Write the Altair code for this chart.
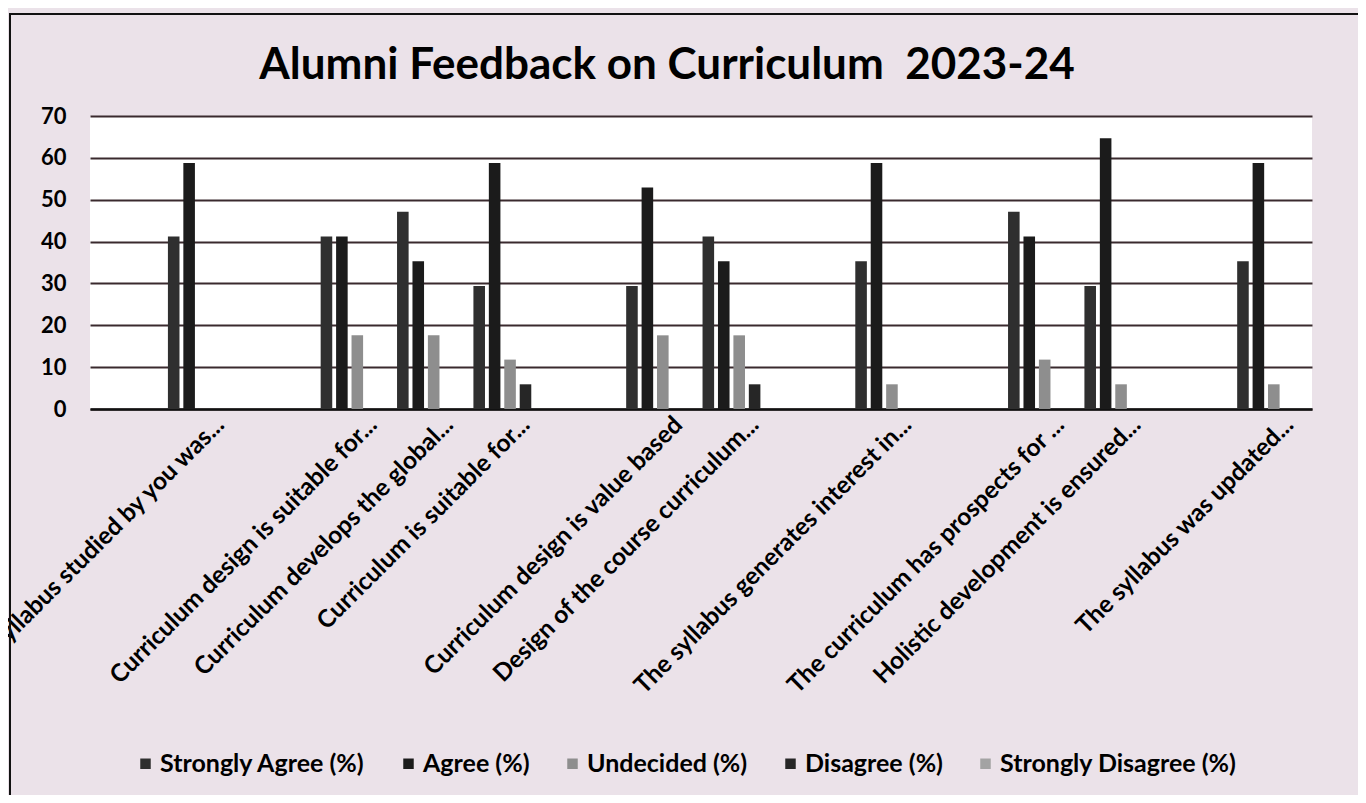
import json
import altair as alt
import pandas as pd

# ---- data ----
questions = [
    "",
    "Syllabus studied by you was...",
    "",
    "Curriculum design is suitable for...",
    "Curriculum develops the global...",
    "Curriculum is suitable for...",
    "",
    "Curriculum design is value based",
    "Design of the course curriculum...",
    "",
    "The syllabus generates interest in...",
    "",
    "The curriculum has prospects for ...",
    "Holistic development is ensured...",
    "",
    "The syllabus was updated...",
]
series = ["Strongly Agree (%)", "Agree (%)", "Undecided (%)", "Disagree (%)", "Strongly Disagree (%)"]
colors = ["#2f2f2f", "#1b1b1b", "#8e8e8e", "#262626", "#a3a3a3"]

# values per question slot (None = blank slot)
strongly_agree = [None, 41.2, None, 41.2, 47.1, 29.4, None, 29.4, 41.2, None, 35.3, None, 47.1, 29.4, None, 35.3]
agree          = [None, 58.8, None, 41.2, 35.3, 58.8, None, 52.9, 35.3, None, 58.8, None, 41.2, 64.7, None, 58.8]
undecided      = [None, 0.0,  None, 17.6, 17.6, 11.8, None, 17.6, 17.6, None, 5.9,  None, 11.8, 5.9,  None, 5.9]
disagree       = [None, 0.0,  None, 0.0,  0.0,  5.9,  None, 0.0,  5.9,  None, 0.0,  None, 0.0,  0.0,  None, 0.0]
strongly_dis   = [None, 0.0,  None, 0.0,  0.0,  0.0,  None, 0.0,  0.0,  None, 0.0,  None, 0.0,  0.0,  None, 0.0]

rows = []
for s, vals in zip(series, [strongly_agree, agree, undecided, disagree, strongly_dis]):
    for i, v in enumerate(vals):
        if v is not None:
            rows.append({"slot": i, "series": s, "value": v})
df = pd.DataFrame(rows)

label_expr = json.dumps(questions) + "[datum.value]"
FONT = "Lato"
TITLE = "Alumni Feedback on Curriculum\u00a0 2023-24"

bars = alt.Chart(df).mark_bar().encode(
    x=alt.X("slot:O",
            scale=alt.Scale(domain=list(range(len(questions))), paddingInner=0, paddingOuter=0),
            axis=alt.Axis(title=None, labelExpr=label_expr, labelAngle=-45, labelAlign="right",
                          labelBaseline="middle", labelFontSize=24.5, labelFont=FONT,
                          labelFontWeight="bold",
                          labelColor="#000000", labelOffset=16, labelPadding=12,
                          ticks=False, domain=True, domainColor="#111111", domainWidth=2.5,
                          grid=False, labelOverlap=False, labelBound=False, labelLimit=0)),
    xOffset=alt.XOffset("series:N", sort=series,
                        scale=alt.Scale(domain=series, paddingInner=0.25, paddingOuter=0.1)),
    y=alt.Y("value:Q", scale=alt.Scale(domain=[0, 70], nice=False),
            axis=alt.Axis(title=None, values=list(range(0, 71, 10)), labelFontSize=22,
                          labelFont=FONT, labelFontWeight="bold", labelColor="#000000",
                          labelPadding=24, ticks=False, domain=False,
                          grid=True, gridColor="#3a2a2e", gridWidth=2)),
    color=alt.Color("series:N", sort=series,
                    scale=alt.Scale(domain=series, range=colors),
                    legend=alt.Legend(title=None, orient="none", direction="horizontal",
                                      legendX=43, legendY=635, symbolType="square",
                                      symbolSize=110, symbolStrokeWidth=0,
                                      labelFontSize=25, labelFont=FONT, labelFontWeight="bold",
                                      labelColor="#000000",
                                      columnPadding=30, labelOffset=2, labelLimit=0)),
)

frame = alt.Chart(pd.DataFrame({"k": [0]})).mark_rect(
    fill=None, stroke="#111111", strokeWidth=2
).encode(
    x=alt.value(-80), x2=alt.value(1270), y=alt.value(-102), y2=alt.value(700)
)

chart = alt.layer(bars, frame).properties(
    width=1222,
    height=293,
    autosize=alt.AutoSizeParams(type="none"),
    padding={"left": 82, "top": 108, "right": 46, "bottom": 386},
    background="#ebe2e9",
    title=alt.Title(TITLE, fontSize=44, font=FONT,
                    fontWeight="bold", color="#000000", anchor="middle", offset=-75, dx=-34),
).configure_view(fill="white", stroke=None)

chart.save("out.html", embed_options={"renderer": "svg", "actions": False})
